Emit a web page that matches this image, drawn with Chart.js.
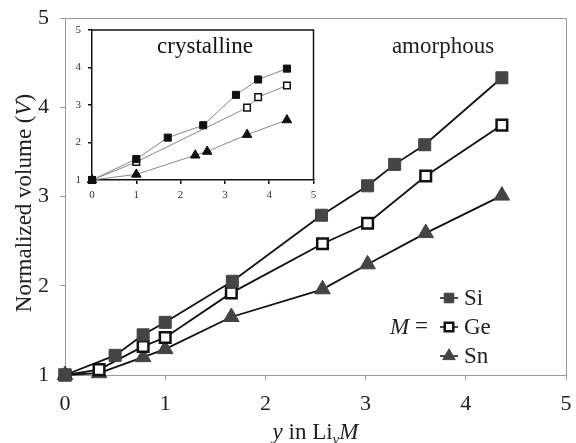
<!DOCTYPE html>
<html>
<head>
<meta charset="utf-8">
<script src="https://cdn.jsdelivr.net/npm/chart.js@4.4.0/dist/chart.umd.min.js"></script>
<style>
  body { margin: 0; background: #fff; }
  #wrap { position: relative; width: 576px; height: 443px; }
  #main { position: absolute; left: 0; top: 0; }
  #inset { position: absolute; left: 68px; top: 22px; }
</style>
</head>
<body>
<div id="wrap">
  <canvas id="main" width="576" height="443"></canvas>
  <canvas id="inset" width="252" height="182"></canvas>
</div>
<script>
// amorphous (main plot)
const amSiX = [0, 0.5, 0.78, 1, 1.67, 2.56, 3.02, 3.29, 3.59, 4.36];
const amSiV = [1, 1.22, 1.45, 1.59, 2.05, 2.79, 3.12, 3.36, 3.58, 4.33];
const amGeX = [0, 0.34, 0.78, 1, 1.66, 2.57, 3.02, 3.6, 4.36];
const amGeV = [1, 1.06, 1.32, 1.42, 1.92, 2.47, 2.70, 3.23, 3.80];
const amSnX = [0, 0.34, 0.78, 1, 1.66, 2.57, 3.02, 3.6, 4.36];
const amSnV = [1, 1.02, 1.2, 1.29, 1.65, 1.96, 2.24, 2.59, 3.01];

// crystalline (inset)
const crSiX = [0, 1, 1.71, 2.51, 3.25, 3.75, 4.4];
const crSiV = [1, 1.56, 2.13, 2.46, 3.27, 3.68, 3.97];
const crGeX = [0, 1, 3.5, 3.75, 4.4];
const crGeV = [1, 1.48, 2.93, 3.21, 3.52];
const crSnX = [0, 1, 2.33, 2.6, 3.5, 4.4];
const crSnV = [1, 1.15, 1.66, 1.76, 2.21, 2.6];

const xTicks = [0, 1, 2, 3, 4, 5];
const yTicks = [1, 2, 3, 4, 5];
const elements = ['Si', 'Ge', 'Sn'];

const SERIF = "'Liberation Serif', 'Times New Roman', serif";

function pts(xs, ys) {
    return xs.map((x, i) => ({ x: x, y: ys[i] }));
}

function axis(min, max, list, opts) {
    return {
        type: 'linear',
        min: min,
        max: max,
        afterBuildTicks: s => { s.ticks = list.map(v => ({ value: v })); },
        afterFit: s => {
            opts.fit(s);
            // keep label overflow from pushing the plot area in
            s.paddingLeft = 0; s.paddingRight = 0;
            s.paddingTop = 0; s.paddingBottom = 0;
        },
        border: { display: true, color: opts.line, width: opts.lineWidth },
        grid: { drawOnChartArea: false, drawTicks: true, tickLength: opts.tick, color: opts.line, lineWidth: opts.lineWidth },
        ticks: { color: opts.text, font: { family: SERIF, size: opts.size }, padding: opts.pad, maxRotation: 0 }
    };
}

// main chart: frame, titles, legend
const mainDecor = {
    id: 'mainDecor',
    afterDraw(chart) {
        const ctx = chart.ctx;
        const a = chart.chartArea;
        ctx.save();
        ctx.strokeStyle = '#999';
        ctx.lineWidth = 1;
        ctx.beginPath();
        ctx.moveTo(a.left, a.top + 0.5);
        ctx.lineTo(a.right + 0.5, a.top + 0.5);
        ctx.lineTo(a.right + 0.5, a.bottom);
        ctx.stroke();

        ctx.fillStyle = '#222';
        ctx.textBaseline = 'alphabetic';

        // amorphous label
        ctx.font = '23px ' + SERIF;
        ctx.textAlign = 'center';
        ctx.fillText('amorphous', 443, 53);

        // x title: y in Li_y M
        const big = '23px ' + SERIF;
        const bigI = 'italic 23px ' + SERIF;
        const small = 'italic 15px ' + SERIF;
        const parts = [[bigI, 'y', 0], [big, ' in Li', 0], [small, 'y', 5], [bigI, 'M', 0]];
        ctx.textAlign = 'left';
        let w = 0;
        parts.forEach(p => { ctx.font = p[0]; w += ctx.measureText(p[1]).width; });
        let x = (a.left + a.right) / 2 - w / 2;
        parts.forEach(p => {
            ctx.font = p[0];
            ctx.fillText(p[1], x, 439 + p[2]);
            x += ctx.measureText(p[1]).width;
        });

        // y title
        ctx.save();
        ctx.translate(31, 203);
        ctx.rotate(-Math.PI / 2);
        const yp = [[big, 'Normalized volume ('], [bigI, 'V'], [big, ')']];
        w = 0;
        yp.forEach(p => { ctx.font = p[0]; w += ctx.measureText(p[1]).width; });
        x = -w / 2;
        yp.forEach(p => {
            ctx.font = p[0];
            ctx.fillText(p[1], x, 0);
            x += ctx.measureText(p[1]).width;
        });
        ctx.restore();

        // legend
        const rows = [298, 327, 356];
        chart.data.datasets.forEach((ds, i) => {
            const y = rows[i];
            ctx.strokeStyle = '#111';
            ctx.lineWidth = 1.5;
            ctx.beginPath();
            ctx.moveTo(440, y);
            ctx.lineTo(458, y);
            ctx.stroke();
            ctx.fillStyle = ds.pointBackgroundColor;
            ctx.strokeStyle = ds.pointBorderColor;
            ctx.lineWidth = ds.pointBorderWidth;
            Chart.helpers.drawPoint(ctx, {
                pointStyle: ds.pointStyle,
                radius: ds.pointRadius * 0.8,
                borderWidth: ds.pointBorderWidth,
                rotation: 0
            }, 449, y);
            ctx.fillStyle = '#222';
            ctx.font = big;
            ctx.textBaseline = 'middle';
            ctx.fillText(elements[i], 464, y + 1);
        });
        ctx.font = bigI;
        ctx.textBaseline = 'middle';
        ctx.fillText('M', 390, 328);
        ctx.font = big;
        ctx.fillText('=', 415, 327);
        ctx.restore();
    }
};

const insetDecor = {
    id: 'insetDecor',
    afterDraw(chart) {
        const ctx = chart.ctx;
        const a = chart.chartArea;
        ctx.save();
        ctx.strokeStyle = '#111';
        ctx.lineWidth = 1.5;
        ctx.beginPath();
        ctx.moveTo(a.left, a.top);
        ctx.lineTo(a.right, a.top);
        ctx.lineTo(a.right, a.bottom);
        ctx.stroke();
        ctx.fillStyle = '#111';
        ctx.font = '23px ' + SERIF;
        ctx.textAlign = 'center';
        ctx.textBaseline = 'alphabetic';
        ctx.fillText('crystalline', 137, 31);
        ctx.restore();
    }
};

new Chart(document.getElementById('main'), {
    type: 'scatter',
    data: {
        datasets: [
            {
                label: elements[0], data: pts(amSiX, amSiV), showLine: true,
                borderColor: '#111', borderWidth: 1.8,
                pointStyle: 'rect', pointRadius: 8.5,
                pointBackgroundColor: '#444', pointBorderColor: '#444', pointBorderWidth: 1
            },
            {
                label: elements[1], data: pts(amGeX, amGeV), showLine: true,
                borderColor: '#111', borderWidth: 1.8,
                pointStyle: 'rect', pointRadius: 7.5,
                pointBackgroundColor: '#fff', pointBorderColor: '#111', pointBorderWidth: 2.5
            },
            {
                label: elements[2], data: pts(amSnX, amSnV), showLine: true,
                borderColor: '#111', borderWidth: 1.8,
                pointStyle: 'triangle', pointRadius: 9,
                pointBackgroundColor: '#444', pointBorderColor: '#444', pointBorderWidth: 1
            }
        ]
    },
    options: {
        responsive: false,
        animation: false,
        clip: false,
        layout: { padding: { top: 18, right: 5, left: 0, bottom: 0 } },
        plugins: { legend: { display: false }, tooltip: { enabled: false } },
        scales: {
            x: axis(0, 5, xTicks, { fit: s => { s.height = 68; }, line: '#999', lineWidth: 1, tick: 5, text: '#222', size: 22, pad: 11 }),
            y: axis(1, 5, yTicks, { fit: s => { s.width = 65; }, line: '#999', lineWidth: 1, tick: 5, text: '#222', size: 22, pad: 11 })
        }
    },
    plugins: [mainDecor]
});

new Chart(document.getElementById('inset'), {
    type: 'scatter',
    data: {
        datasets: [
            {
                data: pts(crSiX, crSiV), showLine: true,
                borderColor: '#888', borderWidth: 1,
                pointStyle: 'rect', pointRadius: 5,
                pointBackgroundColor: '#111', pointBorderColor: '#111', pointBorderWidth: 1
            },
            {
                data: pts(crGeX, crGeV), showLine: true,
                borderColor: '#888', borderWidth: 1,
                pointStyle: 'rect', pointRadius: 4.6,
                pointBackgroundColor: '#fff', pointBorderColor: '#111', pointBorderWidth: 1.5
            },
            {
                data: pts(crSnX, crSnV), showLine: true,
                borderColor: '#888', borderWidth: 1,
                pointStyle: 'triangle', pointRadius: 5.5,
                pointBackgroundColor: '#111', pointBorderColor: '#111', pointBorderWidth: 1
            }
        ]
    },
    options: {
        responsive: false,
        animation: false,
        clip: false,
        layout: { padding: { top: 8, right: 5, left: 0, bottom: 0 } },
        plugins: { legend: { display: false }, tooltip: { enabled: false } },
        scales: {
            x: axis(0, 5, xTicks, { fit: s => { s.height = 24; }, line: '#111', lineWidth: 1.5, tick: 4, text: '#333', size: 11, pad: 5 }),
            y: axis(1, 5, yTicks, { fit: s => { s.width = 24; }, line: '#111', lineWidth: 1.5, tick: 4, text: '#333', size: 11, pad: 7 })
        }
    },
    plugins: [insetDecor]
});
</script>
</body>
</html>
